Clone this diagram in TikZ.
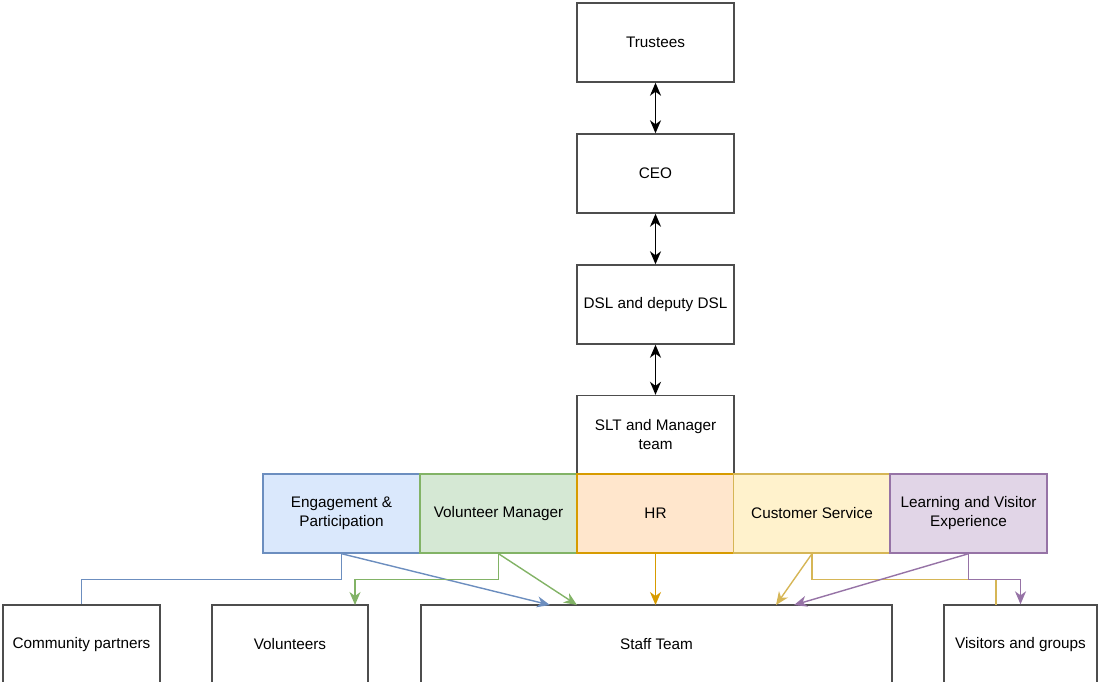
\documentclass[tikz,border=0pt]{standalone}
\usepackage{fontspec}
\setmainfont{Liberation Sans}
\usetikzlibrary{arrows.meta,calc}
\definecolor{boxgray}{HTML}{4D4D4D}
\definecolor{bluefill}{HTML}{DAE8FC}\definecolor{bluedraw}{HTML}{6C8EBF}
\definecolor{greenfill}{HTML}{D5E8D4}\definecolor{greendraw}{HTML}{82B366}
\definecolor{orangefill}{HTML}{FFE6CC}\definecolor{orangedraw}{HTML}{D79B00}
\definecolor{yellowfill}{HTML}{FFF2CC}\definecolor{yellowdraw}{HTML}{D6B656}
\definecolor{purplefill}{HTML}{E1D5E7}\definecolor{purpledraw}{HTML}{9673A6}
\begin{document}
\begin{tikzpicture}[x=1pt,y=-1pt,
  box/.style={draw=boxgray, line width=1.4pt, minimum width=157pt, minimum height=79pt,
    inner sep=2pt, align=center, font=\fontsize{15.3}{19}\selectfont},
  conn/.style={line width=1.4pt},
  tip/.style={-{Stealth[length=13pt,width=11pt,inset=4pt]}},
  dbl/.style={line width=1.6pt,{Stealth[length=13pt,width=11pt,inset=4pt]}-{Stealth[length=13pt,width=11pt,inset=4pt]}}]
\useasboundingbox (0,0) rectangle (1099,681);
\begin{scope}
\clip (0,0) rectangle (1099,681);
% top chain
\node[box] (trustees) at (655.5,42.5) {Trustees};
\node[box] (ceo) at (655.5,173.5) {CEO};
\node[box] (dsl) at (655.5,304.5) {DSL and deputy DSL};
\node[box] (slt) at (655.5,435) {SLT and Manager\\team};
% coloured row
\node[box, fill=bluefill, draw=bluedraw] (eng) at (341.5,513.5) {Engagement \&\\Participation};
\node[box, fill=greenfill, draw=greendraw] (vm) at (498.5,513.5) {Volunteer Manager};
\node[box, fill=orangefill, draw=orangedraw] (hr) at (655.5,513.5) {HR};
\node[box, fill=yellowfill, draw=yellowdraw] (cs) at (812,513.5) {Customer Service};
\node[box, fill=purplefill, draw=purpledraw] (lve) at (968.5,513.5) {Learning and Visitor\\Experience};
% bottom row
\node[box, minimum width=157pt] (comm) at (81.5,644.5) {Community partners};
\node[box, minimum width=156pt] (vol) at (290,644.5) {Volunteers};
\node[box, minimum width=471pt] (staff) at (656.5,644.5) {Staff Team};
\node[box, minimum width=153pt] (vis) at (1020.5,644.5) {Visitors and groups};
% arrow targets
\coordinate (stB) at (550,605);
\coordinate (stG) at (577,605);
\coordinate (stO) at (655.5,605);
\coordinate (stY) at (776,605);
\coordinate (stP) at (794,605);
\coordinate (volIn) at (355,605);
\coordinate (visY) at (996,605);
% vertical double arrows
\draw[dbl] (trustees.south) -- (ceo.north);
\draw[dbl] (ceo.south) -- (dsl.north);
\draw[dbl] (dsl.south) -- (slt.north);
% connectors
\draw[conn, bluedraw] (eng.south) -- ++(0,26) -| (comm.north);
\draw[conn, bluedraw, tip] (eng.south) -- (stB);
\draw[conn, greendraw, tip] (vm.south) -- ++(0,26) -| (volIn);
\draw[conn, greendraw, tip] (vm.south) -- (stG);
\draw[conn, orangedraw, tip] (hr.south) -- (stO);
\draw[conn, yellowdraw, tip] (cs.south) -- (stY);
\draw[conn, yellowdraw] (cs.south) -- ++(0,26) -| (visY);
\draw[conn, purpledraw, tip] (lve.south) -- (stP);
\draw[conn, purpledraw, tip] (lve.south) -- ++(0,26) -| (vis.north);
\end{scope}
\end{tikzpicture}
\end{document}
